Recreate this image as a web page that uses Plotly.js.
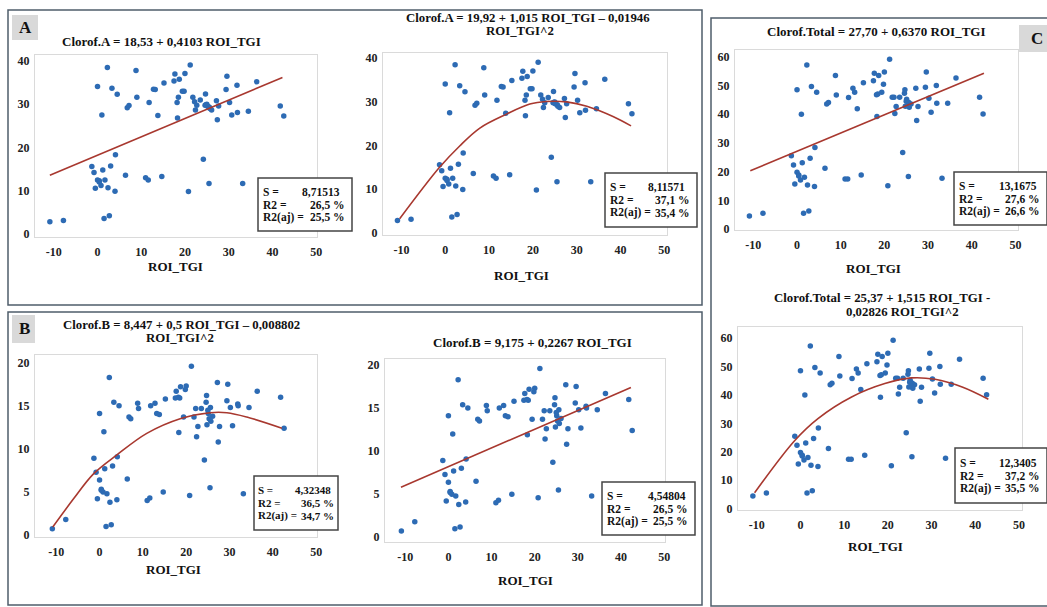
<!DOCTYPE html>
<html><head><meta charset="utf-8">
<script src="https://cdn.plot.ly/plotly-3.0.1.min.js"></script>
<style>html,body{margin:0;padding:0;background:#fff}#chart{width:1047px;height:607px}</style>
</head><body><div id="chart"></div>
<script>
// ---- data ----
const roiTGI = [-10.9,-7.8,2.25,8.8,0.0,3.3,4.5,1.0,6.8,7.2,9.0,11.8,12.8,13.2,13.8,15.2,17.7,17.5,18.7,20.0,21.2,19.4,19.8,18.5,18.2,18.3,21.8,22.2,22.7,22.4,23.5,24.7,24.6,25.1,25.6,26.1,25.0,27.2,27.7,27.4,29.6,29.4,30.2,30.7,31.9,32.0,34.5,36.4,41.8,42.6,24.2,25.5,33.2,20.8,14.7,11.0,11.6,6.4,4.1,3.0,-1.3,-0.8,1.2,0.0,0.4,1.7,-0.5,0.8,2.4,4.0,1.5,2.7,25.3,25.7,24.8,0.4];
const clorofA = [2.8,3.1,38.5,37.8,34.1,33.7,32.3,27.5,29.2,29.7,31.6,30.4,33.5,33.4,27.4,34.9,37.0,35.4,35.8,37.1,39.1,33.0,33.0,31.6,30.4,26.8,31.6,30.6,29.8,28.7,31.0,32.4,29.8,29.6,29.3,28.7,30.0,30.8,29.6,26.4,36.5,33.4,30.4,27.5,34.4,28.1,28.4,35.2,29.6,27.3,17.3,11.7,11.7,9.8,13.3,13.0,12.5,13.6,18.3,15.7,15.6,14.2,14.8,12.5,12.3,12.5,10.6,11.2,10.7,9.9,3.6,4.2,29.5,29.0,29.9,12.0];
const clorofB = [0.74,1.8,18.3,15.3,14.1,15.4,15.0,12.0,13.7,13.5,14.7,15.0,15.3,14.1,14.0,15.8,16.7,15.9,17.2,17.3,19.6,13.7,16.9,15.9,16.0,11.9,13.7,14.7,12.6,11.4,14.7,16.2,15.4,14.1,14.8,13.8,14.5,17.7,12.6,10.8,17.5,15.6,14.8,12.7,15.2,15.0,14.8,16.7,16.0,12.4,8.7,5.5,4.8,4.6,5.0,4.0,4.3,6.5,9.1,8.0,8.9,7.3,7.7,6.4,5.3,4.8,4.2,5.0,3.8,4.1,1.0,1.2,13.5,13.2,12.8,5.2];
const clorofTotal = [4.5,5.5,57.2,53.5,48.5,49.7,47.7,40.0,43.6,44.1,46.7,45.8,49.1,47.7,41.9,51.0,54.3,51.7,53.5,54.7,59.2,47.7,50.5,47.1,46.8,39.2,45.9,45.9,42.7,40.3,45.9,48.5,47.3,45.2,44.1,43.6,44.5,49.1,42.7,37.8,54.7,49.4,45.6,40.7,50.0,43.8,43.8,52.6,45.9,40.1,26.7,18.3,17.7,15.1,18.8,17.4,17.4,21.2,28.4,24.7,25.5,22.3,23.1,19.8,18.8,18.0,15.7,17.1,15.3,14.8,5.5,6.3,43.0,42.4,42.8,18.5];

// fitted lines / curves as drawn in the picture
const fitA_lin_x = [-10.9, 42.3];
const fitA_lin_y = [13.6, 36.2];
const fitA_quad_x = [-10.4,-1.3,3.3,7.9,14.0,19.3,23.1,27.7,32.3,38.4,42.4];
const fitA_quad_y = [3.2,15.0,19.9,24.0,27.2,29.5,30.1,30.0,29.0,26.6,24.5];
const fitB_lin_x = [-11.0, 42.3];
const fitB_lin_y = [5.8, 17.4];
const fitB_quad_x = [-10.8,-6.0,-1.4,4.0,10.9,18.6,25.5,29.4,34.0,42.1];
const fitB_quad_y = [0.93,4.2,7.1,9.3,11.8,13.5,14.2,14.2,13.7,12.4];
const fitT_lin_x = [-10.7, 42.8];
const fitT_lin_y = [20.3, 54.3];
const fitT_quad_x = [-10.5,-1.3,4.0,11.7,19.3,25.4,30.8,37.0,43.0];
const fitT_quad_y = [5.6,24.0,31.7,39.3,44.0,46.0,45.5,42.8,38.5];

const xTicks = [-10,0,10,20,30,40,50];
const yTicksA = [0,10,20,30,40];
const yTicksB = [0,5,10,15,20];
const yTicksT = [0,10,20,30,40,50,60];

const titles = [
  ['Clorof.A = 18,53 + 0,4103 ROI_TGI'],
  ['Clorof.A = 19,92 + 1,015 ROI_TGI \u2013 0,01946','ROI_TGI^2'],
  ['Clorof.Total = 27,70 + 0,6370 ROI_TGI'],
  ['Clorof.Total = 25,37 + 1,515 ROI_TGI -','0,02826 ROI_TGI^2'],
  ['Clorof.B = 8,447 + 0,5 ROI_TGI \u2013 0,008802','ROI_TGI^2'],
  ['Clorof.B = 9,175 + 0,2267 ROI_TGI']
];
const statS = ['8,71513','8,11571','13,1675','12,3405','4,32348','4,54804'];
const statR2 = ['26,5 %','37,1 %','27,6 %','37,2 %','36,5 %','26,5 %'];
const statR2aj = ['25,5 %','35,4 %','26,6 %','35,5 %','34,7 %','25,5 %'];
const panelLetters = ['A','B','C'];

// ---- layout (pixel geometry) ----
const W = 1047, H = 607;
const FONT = 'Liberation Serif, Times New Roman, serif';
const PX = v => v / W, PY = v => 1 - v / H;
const ptColor = '#2d6bb4', lineColor = '#a8382f';

const panels = [
  {box:[35,55,317,237],  xr:[-14.3,50.2], yr:[-0.7,41.4],  yv:clorofA,     yt:yTicksA, fx:fitA_lin_x,  fy:fitA_lin_y,  sp:false,
   tpos:[[161.7,41.7]], xt:[175,266.5], st:[258,178,352,231], sf:11.5, pad:[4,11,6]},
  {box:[383,53,667,235], xr:[-14.2,50.6], yr:[-0.5,41.2],  yv:clorofA,     yt:yTicksA, fx:fitA_quad_x, fy:fitA_quad_y, sp:true,
   tpos:[[528,18.3],[520,30.7]], xt:[521,275], st:[605,173,697,227], sf:11.5, pad:[4,11,6]},
  {box:[735,50,1018,230], xr:[-14.2,50.6], yr:[-0.35,62.4], yv:clorofTotal, yt:yTicksT, fx:fitT_lin_x, fy:fitT_lin_y, sp:false,
   tpos:[[876.7,31.7]], xt:[873.7,268.3], st:[954,172,1047,225], sf:11.5, pad:[4,9,6]},
  {box:[738,327,1022,510], xr:[-14.3,50.7], yr:[-0.46,63.9], yv:clorofTotal, yt:yTicksT, fx:fitT_quad_x, fy:fitT_quad_y, sp:true,
   tpos:[[881.7,298.3],[902.5,311.7]], xt:[875.8,546.7], st:[955,448,1047,503], sf:11.5, pad:[4,9,6]},
  {box:[35,355,317,537], xr:[-14.9,50.2], yr:[-0.23,20.9], yv:clorofB, yt:yTicksB, fx:fitB_quad_x, fy:fitB_quad_y, sp:true,
   tpos:[[181.7,325],[180,337.7]], xt:[173.3,569.3], st:[254,476,338,530], sf:11, pad:[3,6,3]},
  {box:[385,359,665,542], xr:[-14.7,50.2], yr:[-0.55,20.7], yv:clorofB, yt:yTicksB, fx:fitB_lin_x, fy:fitB_lin_y, sp:false,
   tpos:[[532.5,342.7]], xt:[525,580], st:[602,482,695,535], sf:11.5, pad:[4,8,6]}
];

const traces = [];
const layout = {
  width: W, height: H, margin:{l:0,r:0,t:0,b:0},
  paper_bgcolor:'#ffffff', plot_bgcolor:'#ffffff', showlegend:false,
  font:{family:FONT, color:'#1a1a1a'},
  annotations:[], shapes:[]
};
const ann = (text, x, y, size, xanchor) => layout.annotations.push({
  text, x:PX(x), y:PY(y), xref:'paper', yref:'paper', showarrow:false,
  xanchor:xanchor||'center', yanchor:'middle', borderpad:0,
  font:{family:FONT, size:size, color:'#111', weight:'bold'}
});
const rect = (x0,y0,x1,y1,line,fill) => layout.shapes.push({
  type:'rect', xref:'paper', yref:'paper', x0:PX(x0), x1:PX(x1), y0:PY(y1), y1:PY(y0),
  line:line, fillcolor:fill||'rgba(0,0,0,0)', layer:'above'
});

// outer panel frames
const frameLine = {color:'#4f5d6b', width:1.5};
rect(8,10,702,305, frameLine);
rect(8,312,702,605, frameLine);
rect(711,18,1052,606, frameLine);
// panel letters
rect(12,15,38,40,{width:0},'#d9d9d9');  ann(panelLetters[0],25,27.5,17);
rect(12,315,35,343,{width:0},'#d9d9d9'); ann(panelLetters[1],24,329,17);
rect(1019,25,1048,52,{width:0},'#d9d9d9'); ann(panelLetters[2],1037,38.5,17);

panels.forEach((p,i) => {
  const n = i === 0 ? '' : String(i+1);
  const xa = 'x'+n, ya = 'y'+n;
  layout['xaxis'+n] = {
    domain:[PX(p.box[0]), PX(p.box[2])], anchor:ya, range:p.xr,
    tickvals:xTicks, ticktext:xTicks.map(String),
    showline:true, mirror:true, linecolor:'#dadada', linewidth:1,
    showgrid:false, zeroline:false, ticks:'outside', ticklen:4, tickcolor:'rgba(0,0,0,0)',
    tickfont:{family:FONT, size:12, color:'#222', weight:'bold'}, fixedrange:true
  };
  layout['yaxis'+n] = {
    domain:[PY(p.box[3]), PY(p.box[1])], anchor:xa, range:p.yr,
    tickvals:p.yt, ticktext:p.yt.map(String),
    showline:true, mirror:true, linecolor:'#dadada', linewidth:1,
    showgrid:false, zeroline:false, ticks:'outside', ticklen:2, tickcolor:'rgba(0,0,0,0)',
    tickfont:{family:FONT, size:12, color:'#222', weight:'bold'}, fixedrange:true
  };
  traces.push({type:'scatter', mode:'markers', x:roiTGI, y:p.yv, xaxis:xa, yaxis:ya,
    marker:{color:ptColor, size:5.5}, hoverinfo:'skip'});
  traces.push({type:'scatter', mode:'lines', x:p.fx, y:p.fy, xaxis:xa, yaxis:ya,
    line:{color:lineColor, width:1.6, shape:p.sp?'spline':'linear'}, hoverinfo:'skip'});
  titles[i].forEach((t,k) => ann(t, p.tpos[k][0], p.tpos[k][1], titles[i].length > 1 ? 12.8 : 13));
  ann('ROI_TGI', p.xt[0], p.xt[1], 13);
  const [bx0,by0,bx1,by1] = p.st;
  rect(bx0,by0,bx1,by1,{color:'#444', width:1.5},'#ffffff');
  const cy = (by0+by1)/2, dy = 12.5, f = p.sf, [pl, ps, pv] = p.pad;
  ann('S =', bx0+pl, cy-dy, f, 'left');
  ann('R2 =', bx0+pl, cy, f, 'left');
  ann('R2(aj) =', bx0+pl, cy+dy, f, 'left');
  ann(statS[i], bx1-ps, cy-dy, f, 'right');
  ann(statR2[i], bx1-pv, cy, f, 'right');
  ann(statR2aj[i], bx1-pv, cy+dy, f, 'right');
});

Plotly.newPlot('chart', traces, layout, {staticPlot:true, displayModeBar:false});
</script></body></html>
